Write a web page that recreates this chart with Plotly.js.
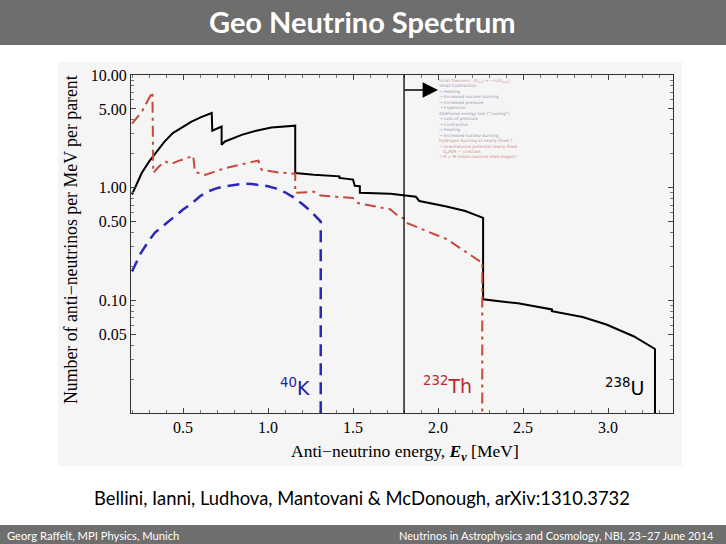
<!DOCTYPE html>
<html>
<head>
<meta charset="utf-8">
<script src="https://cdn.plot.ly/plotly-3.0.1.min.js"></script>
<style>html,body{margin:0;padding:0;background:#fff;}#chart{width:726px;height:544px;}</style>
</head>
<body>
<div id="chart"></div>
<script>
// ---- data ----
const U238_E = [0.2, 0.23, 0.257, 0.3, 0.335, 0.39, 0.44, 0.5, 0.55, 0.61, 0.669, 0.672, 0.727, 0.727, 0.747, 0.845, 0.93, 1.02, 1.16, 1.16, 1.27, 1.42, 1.42, 1.50, 1.51, 1.54, 1.54, 1.72, 1.87, 1.89, 2.05, 2.16, 2.265, 2.265, 2.47, 2.67, 2.67, 2.85, 2.99, 3.15, 3.276, 3.276];
const U238_N = [0.87, 1.1, 1.35, 1.7, 2.0, 2.55, 3.05, 3.45, 3.86, 4.25, 4.6, 3.2, 3.49, 2.4, 2.57, 2.94, 3.2, 3.42, 3.55, 1.35, 1.30, 1.26, 1.22, 1.18, 1.04, 1.03, 0.90, 0.885, 0.83, 0.76, 0.68, 0.62, 0.54, 0.102, 0.094, 0.083, 0.080, 0.071, 0.061, 0.048, 0.037, 0.01];

const TH232_E = [0.2, 0.257, 0.32, 0.325, 0.36, 0.394, 0.43, 0.47, 0.52, 0.56, 0.57, 0.63, 0.747, 0.943, 0.962, 1.07, 1.16, 1.16, 1.27, 1.31, 1.50, 1.53, 1.72, 1.76, 1.80, 1.81, 1.99, 2.05, 2.25, 2.26, 2.26];
const TH232_N = [3.7, 4.7, 7.1, 1.35, 1.55, 1.71, 1.62, 1.72, 1.82, 1.92, 1.38, 1.30, 1.49, 1.74, 1.44, 1.36, 1.33, 0.90, 0.92, 0.85, 0.81, 0.73, 0.64, 0.57, 0.53, 0.49, 0.38, 0.35, 0.22, 0.22, 0.01];

const K40_E = [0.2, 0.25, 0.3, 0.335, 0.4, 0.45, 0.5, 0.55, 0.6, 0.65, 0.7, 0.75, 0.8, 0.85, 0.9, 0.95, 1.0, 1.05, 1.1, 1.15, 1.2, 1.25, 1.29, 1.31, 1.31];
const K40_N = [0.18, 0.26, 0.34, 0.40, 0.48, 0.56, 0.64, 0.72, 0.84, 0.93, 0.99, 1.03, 1.06, 1.085, 1.08, 1.06, 1.03, 0.98, 0.91, 0.82, 0.72, 0.62, 0.54, 0.50, 0.01];

const X_TICKS = [0.5, 1.0, 1.5, 2.0, 2.5, 3.0];
const Y_TICKS = [0.05, 0.1, 0.5, 1, 5, 10];
const Y_TICK_TEXT = ["0.05", "0.10", "0.50", "1.00", "5.00", "10.00"];

const OVERLAY_LINE_E = 1.8;
const OVERLAY_TEXT = [
  ["Virial Theorem:  \u27E8E<sub>kin</sub>\u27E9 = \u2212\u00BD\u27E8E<sub>grav</sub>\u27E9", "#c8a0a0"],
  ["Small Contraction", "#9a9ab0"],
  ["\u2192 Heating", "#9a9ab0"],
  ["\u2192 Increased nuclear burning", "#9a9ab0"],
  ["\u2192 Increased pressure", "#9a9ab0"],
  ["\u2192 Expansion", "#9a9ab0"],
  ["Additional energy loss (\u201Ccooling\u201D)", "#9a9ab0"],
  ["\u2192 Loss of pressure", "#9a9ab0"],
  ["\u2192 Contraction", "#9a9ab0"],
  ["\u2192 Heating", "#9a9ab0"],
  ["\u2192 Increased nuclear burning", "#9a9ab0"],
  ["Hydrogen burning at nearly fixed T", "#d09090"],
  ["\u2192 Gravitational potential nearly fixed:", "#d09090"],
  ["&#160;&#160;&#160;G<sub>N</sub>M/R ~ constant", "#d09090"],
  ["\u2192 R \u221D M (more massive stars bigger)", "#d09090"]
];

// ---- layout geometry helpers (pixel -> paper fraction) ----
const W = 726, H = 544;
const ML = 131, MR = 53, MT = 75, MB = 131;
const PW = W - ML - MR, PH = H - MT - MB;
const fx = px => (px - ML) / PW;
const fy = py => (H - MB - py) / PH;

const serif = "Liberation Serif, Times New Roman, serif";
const slideFont = "Lato, Open Sans, sans-serif";

const traces = [
  {x: U238_E, y: U238_N, type: 'scatter', mode: 'lines', name: '238U',
   line: {color: '#000000', width: 2}},
  {x: TH232_E, y: TH232_N, type: 'scatter', mode: 'lines', name: '232Th',
   line: {color: '#c8483c', width: 2, dash: '11px,5px,3px,5px'}},
  {x: K40_E, y: K40_N, type: 'scatter', mode: 'lines', name: '40K',
   line: {color: '#2a28b8', width: 2.5, dash: '12px,7px'}}
];

const shapes = [
  {type: 'rect', xref: 'paper', yref: 'paper', x0: fx(58), x1: fx(682), y0: fy(466), y1: fy(62),
   fillcolor: '#f5f5f5', line: {width: 0}, layer: 'below'},
  {type: 'rect', xref: 'paper', yref: 'paper', x0: fx(0), x1: fx(W), y0: fy(45), y1: fy(0),
   fillcolor: '#6e6e6e', line: {width: 0}, layer: 'below'},
  {type: 'rect', xref: 'paper', yref: 'paper', x0: fx(0), x1: fx(W), y0: fy(H), y1: fy(525),
   fillcolor: '#6e6e6e', line: {width: 0}, layer: 'below'},
  {type: 'line', xref: 'x', yref: 'paper', x0: OVERLAY_LINE_E, x1: OVERLAY_LINE_E, y0: 0, y1: 1,
   line: {color: '#000', width: 1.3}}
];

const overlayText = OVERLAY_TEXT.map(t => '<span style="color:' + t[1] + '">' + t[0] + '</span>').join('<br>');

const annotations = [
  {xref: 'paper', yref: 'paper', x: fx(362), y: fy(22), text: '<b>Geo Neutrino Spectrum</b>',
   showarrow: false, font: {family: slideFont, size: 29, color: '#ffffff'}, xanchor: 'center', yanchor: 'middle'},
  {xref: 'paper', yref: 'paper', x: fx(362), y: fy(498), text: 'Bellini, Ianni, Ludhova, Mantovani &amp; McDonough, arXiv:1310.3732',
   showarrow: false, font: {family: slideFont, size: 18.4, color: '#000000'}, xanchor: 'center', yanchor: 'middle'},
  {xref: 'paper', yref: 'paper', x: fx(5), y: fy(535), text: 'Georg Raffelt, MPI Physics, Munich',
   showarrow: false, font: {family: slideFont, size: 11.2, color: '#ffffff'}, xanchor: 'left', yanchor: 'middle'},
  {xref: 'paper', yref: 'paper', x: fx(716), y: fy(535), text: 'Neutrinos in Astrophysics and Cosmology, NBI, 23\u201327 June 2014',
   showarrow: false, font: {family: slideFont, size: 11, color: '#ffffff'}, xanchor: 'right', yanchor: 'middle'},
  // isotope labels
  {xref: 'paper', yref: 'paper', x: fx(312), y: fy(387), text: '<sup>40</sup>K',
   showarrow: false, font: {family: 'DejaVu Sans, sans-serif', size: 19, color: '#1e1e9e'}, xanchor: 'right', yanchor: 'middle'},
  {xref: 'paper', yref: 'paper', x: fx(474), y: fy(385), text: '<sup>232</sup>Th',
   showarrow: false, font: {family: 'DejaVu Sans, sans-serif', size: 19, color: '#c0282a'}, xanchor: 'right', yanchor: 'middle'},
  {xref: 'paper', yref: 'paper', x: fx(646), y: fy(387), text: '<sup>238</sup>U',
   showarrow: false, font: {family: 'DejaVu Sans, sans-serif', size: 19, color: '#000000'}, xanchor: 'right', yanchor: 'middle'},
  // axis titles
  {xref: 'paper', yref: 'paper', x: fx(405), y: fy(452), text: 'Anti\u2212neutrino energy, <i><b>E</b></i><sub><i><b>\u03BD</b></i></sub> [MeV]',
   showarrow: false, font: {family: serif, size: 17.5, color: '#000'}, xanchor: 'center', yanchor: 'middle'},
  {xref: 'paper', yref: 'paper', x: fx(71), y: fy(240), text: 'Number of anti\u2212neutrinos per MeV per parent', textangle: -90,
   showarrow: false, font: {family: serif, size: 17.8, color: '#000'}, xanchor: 'center', yanchor: 'middle'},
  // overlay arrow
  {xref: 'paper', yref: 'paper', x: fx(438), y: fy(90), ax: -35, ay: 0, text: '', showarrow: true,
   arrowhead: 2, arrowsize: 2.2, arrowwidth: 1.4, arrowcolor: '#000', standoff: 0},
  // faint overlay notes
  {xref: 'paper', yref: 'paper', x: fx(437), y: fy(76), text: overlayText, align: 'left',
   showarrow: false, font: {family: 'DejaVu Sans, sans-serif', size: 4.2, color: '#9a9ab0'},
   xanchor: 'left', yanchor: 'top'}
];

const axisCommon = {
  showline: true, linecolor: '#333', linewidth: 1, mirror: 'allticks',
  ticks: 'inside', ticklen: 5, tickcolor: '#444', showgrid: false, zeroline: false,
  tickfont: {family: serif, size: 16, color: '#000'}
};

const layout = {
  width: W, height: H,
  margin: {l: ML, r: MR, t: MT, b: MB, pad: 0},
  paper_bgcolor: '#ffffff', plot_bgcolor: 'rgba(0,0,0,0)',
  showlegend: false,
  xaxis: Object.assign({}, axisCommon, {
    range: [0.194, 3.382], tickvals: X_TICKS, tickformat: '.1f',
    minor: {ticks: 'inside', ticklen: 3, dtick: 0.1, tick0: 0, tickcolor: '#777', showgrid: false}
  }),
  yaxis: Object.assign({}, axisCommon, {
    type: 'log', range: [-2, 1], tickvals: Y_TICKS, ticktext: Y_TICK_TEXT,
    minor: {ticks: 'inside', ticklen: 3, tickcolor: '#777', dtick: 'D1', showgrid: false}
  }),
  shapes: shapes,
  annotations: annotations
};

Plotly.newPlot('chart', traces, layout, {displayModeBar: false, staticPlot: true});
</script>
</body>
</html>
